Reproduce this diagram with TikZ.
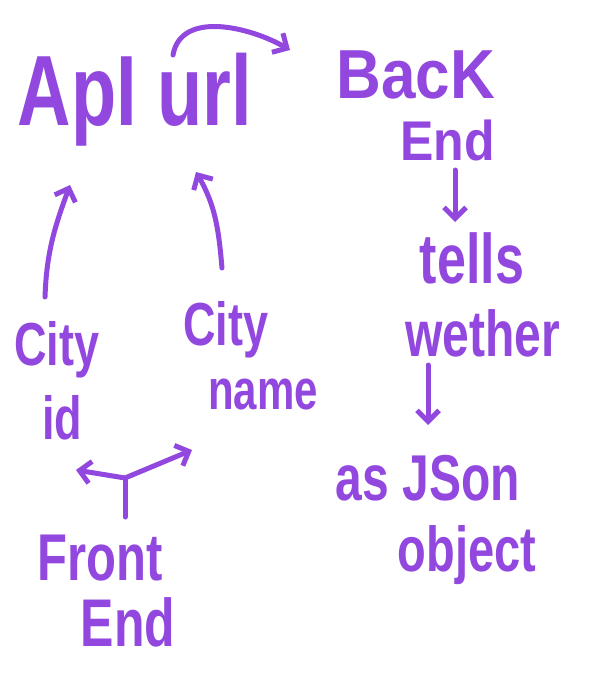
\documentclass[tikz,border=0pt]{standalone}
\usepackage{fontspec}
\usepackage{graphicx}
\setmainfont{Liberation Sans}
\usetikzlibrary{arrows.meta,calc}
\definecolor{purp}{RGB}{146,72,222}
\newcommand\hwtext[3][1.35]{{\fontsize{#2}{#2}\selectfont\scalebox{1}[#1]{#3}}}
\begin{document}
\begin{tikzpicture}[x=1pt,y=-1pt,
  hw/.style={text=purp,inner sep=0pt,font=\bfseries},
  ink/.style={draw=purp,line width=5pt,line cap=round,line join=round},
  arr/.style={ink,-{Straight Barb[length=11pt,width=22pt,line width=5pt]}}]
\useasboundingbox[fill=white] (0,0) rectangle (592,696);
\node[hw] (api) at (135,100) {\hwtext{74}{ApI url}};
\node[hw,anchor=base east] (back) at (495,98) {\hwtext[1.12]{62}{BacK}};
\node[hw,anchor=base east] (back2) at (495,160) {\hwtext[1.12]{50}{End}};
\node[hw] (tells) at (472,258) {\hwtext{52}{tells}};
\node[hw] (wether) at (483,333) {\hwtext{48}{wether}};
\node[hw] (json) at (428,478) {\hwtext{48}{as JSon}};
\node[hw] (obj) at (467,555) {\hwtext{47}{object}};
\node[hw] (cid) at (57,350) {\hwtext{45}{City}};
\node[hw] (cid2) at (62,418) {\hwtext{45}{id}};
\node[hw] (cname) at (226,330) {\hwtext{45}{City}};
\node[hw] (cname2) at (263,395) {\hwtext{42}{name}};
\node[hw] (front) at (100,558) {\hwtext{49}{Front}};
\node[hw] (front2) at (128,622) {\hwtext{50}{End}};
\coordinate (j) at (125,478);
% arrows
\draw[arr] ($(api)+(38,-45)$) to[out=80,in=150] ($(back.base east)+(-205,-48)$);
\draw[arr] ($(back2.base east)+(-40,10)$) -- ($(tells)+(-17,-36)$);
\draw[arr] ($(wether)+(-55,32)$) -- ($(json)+(0,-53)$);
\draw[arr] ($(cid)+(-12,-53)$) to[out=88,in=-110] ($(api)+(-65,85)$);
\draw[arr] ($(cname)+(-4,-62)$) to[out=95,in=-60] ($(api)+(61,72)$);
\draw[ink] ($(front)+(25,-41)$) -- (j);
\draw[arr] (j) -- ($(cid2)+(14,52)$);
\draw[arr] (j) -- ($(cname2)+(-71,55)$);
\end{tikzpicture}
\end{document}
